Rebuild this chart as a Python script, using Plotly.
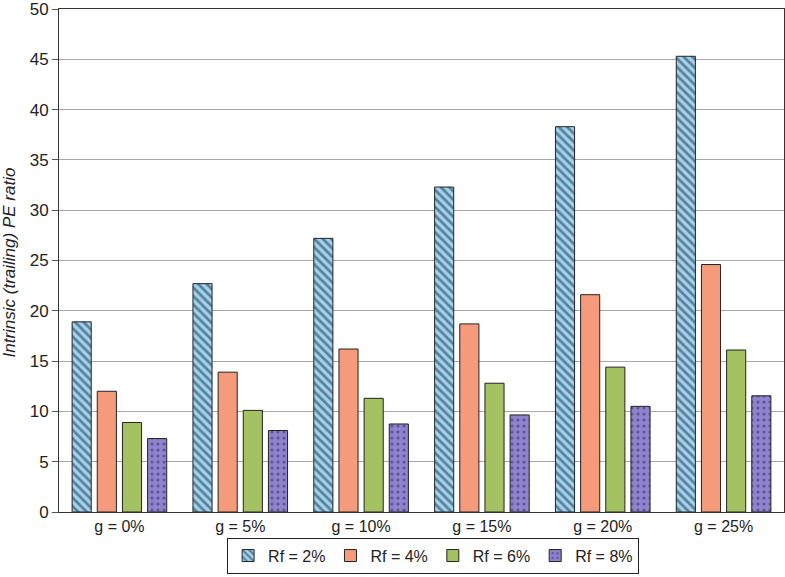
import plotly.graph_objects as go

# --- DATA ---
GROWTH = ["g = 0%", "g = 5%", "g = 10%", "g = 15%", "g = 20%", "g = 25%"]
RF_2 = [18.9, 22.7, 27.2, 32.3, 38.3, 45.3]
RF_4 = [12.0, 13.9, 16.2, 18.7, 21.6, 24.6]
RF_6 = [8.9, 10.1, 11.3, 12.8, 14.4, 16.1]
RF_8 = [7.3, 8.1, 8.75, 9.65, 10.5, 11.55]
SERIES_NAMES = ["Rf = 2%", "Rf = 4%", "Rf = 6%", "Rf = 8%"]

# bar styles: (fill, pattern shape, pattern colour)
styles = [
    ("#9fd3f0", "\\", "#1c2a3a"),
    ("#f59a7b", "", None),
    ("#a5c262", "", None),
    ("#8f82cf", ".", "#2a2250"),
]

fig = go.Figure()
for name, vals, (fill, shape, fg) in zip(SERIES_NAMES, [RF_2, RF_4, RF_6, RF_8], styles):
    marker = dict(color=fill, line=dict(color="#222222", width=1))
    if shape:
        marker["pattern"] = dict(shape=shape, bgcolor=fill, fgcolor=fg,
                                 size=6,
                                 solidity=0.45 if shape == "\\" else 0.2,
                                 fillmode="overlay")
    fig.add_trace(go.Bar(x=GROWTH, y=vals, name=name, marker=marker))

# y title as annotation so it sits where the original has it
fig.add_annotation(text="<i>Intrinsic (trailing) PE ratio</i>", xref="paper", yref="paper",
                   x=0, y=0.495, xshift=-49.5, xanchor="center", yanchor="middle",
                   textangle=-90, showarrow=False, font=dict(size=17))

fig.update_layout(
    width=785, height=577,
    margin=dict(l=59, r=1, t=9, b=65),
    paper_bgcolor="white", plot_bgcolor="white",
    barmode="group", bargap=0.167, bargroupgap=0.24,
    font=dict(family="Liberation Sans, Arial, sans-serif", size=16, color="#222222"),
    showlegend=True,
    legend=dict(orientation="h", x=0.516, xanchor="center", y=-0.051, yanchor="top",
                bordercolor="#222222", borderwidth=1, font=dict(size=16),
                itemwidth=30, tracegroupgap=0),
)
fig.update_xaxes(showline=True, linecolor="#333333", linewidth=1, mirror=True,
                 ticks="", showgrid=False, automargin=False, tickfont=dict(size=16))
fig.update_yaxes(range=[0, 50], dtick=5, showline=True, linecolor="#333333", linewidth=1,
                 mirror=True, ticks="outside", ticklen=6, tickcolor="#555555",
                 showgrid=True, gridcolor="#a8a8a8", gridwidth=1, zeroline=False,
                 automargin=False, tickfont=dict(size=17), ticklabeloverflow="allow")

fig.write_html("out.html", config={"displayModeBar": False},
               post_script="document.body.style.margin='0';document.body.style.overflow='hidden';")
